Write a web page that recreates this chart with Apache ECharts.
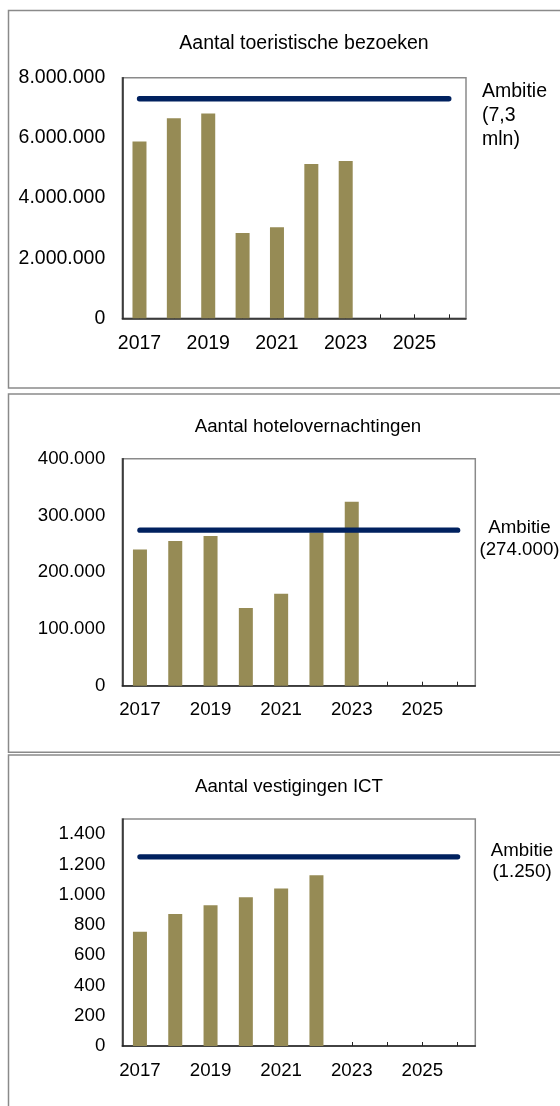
<!DOCTYPE html>
<html lang="nl">

<head>
    <meta charset="UTF-8">
    <meta name="viewport" content="width=device-width, initial-scale=1.0">
    <title>Ambities</title>
    <script src="https://cdn.jsdelivr.net/npm/echarts@6.0.0/dist/echarts.min.js"></script>
    <style>
        html, body { margin: 0; padding: 0; background: #fff; }
    </style>
</head>

<body>
    <div id="main" style="width: 560px;height:1106px;"></div>
    <script type="text/javascript">
        // data
        const jaren = ['2017', '2018', '2019', '2020', '2021', '2022', '2023', '2024', '2025', '2026'];
        const bezoeken = [5880000, 6650000, 6810000, 2840000, 3030000, 5130000, 5230000];
        const overnachtingen = [240000, 255000, 264000, 137000, 162000, 270000, 324000];
        const vestigingenICT = [755, 873, 930, 983, 1040, 1128];
        const ambities = [7300000, 274000, 1250];
        const titels = ['Aantal toeristische bezoeken', 'Aantal hotelovernachtingen', 'Aantal vestigingen ICT'];
        const ambitieTeksten = ['Ambitie\n(7,3\nmln)', 'Ambitie\n(274.000)', 'Ambitie\n(1.250)'];
        const yMax = [8000000, 400000, 1500];
        const yStap = [2000000, 100000, 200];

        const font = '"Liberation Sans", Arial, sans-serif';
        const barColor = '#968b55';
        const lineColor = '#00215f';

        // layout per panel
        const panels = [
            { box: [8.5, 10.5, 560, 377.5], grid: [122.3, 77.7, 343.7, 240.6], fs: 19.5, title: [304, 44],
              amb: { x: 482, y: 91.7, align: 'left', lh: 24 } },
            { box: [8.5, 394, 560, 358.3], grid: [122.3, 458.7, 353, 227], fs: 18.7, title: [308, 426.7],
              amb: { x: 519.5, y: 528, align: 'center', lh: 21.5 } },
            { box: [8.5, 755, 560, 360], grid: [122.3, 819, 353, 227], fs: 18.7, title: [289, 786.7],
              amb: { x: 522, y: 850.7, align: 'center', lh: 21 } }
        ];
        const reeksen = [bezoeken, overnachtingen, vestigingenICT];

        function fmt(v) {
            return String(v).replace(/\B(?=(\d{3})+(?!\d))/g, '.');
        }

        let myChart = echarts.init(document.getElementById('main'));

        const grids = [], xAxes = [], yAxes = [], series = [], graphics = [];

        panels.forEach((p, i) => {
            graphics.push({
                type: 'rect', silent: true,
                shape: { x: p.box[0], y: p.box[1], width: p.box[2], height: p.box[3] },
                style: { fill: 'none', stroke: '#8a8a8a', lineWidth: 1.5 }
            });
            graphics.push({
                type: 'text', silent: true, x: p.title[0], y: p.title[1],
                style: { text: titels[i], font: p.fs + 'px ' + font, fill: '#000', textAlign: 'center', textVerticalAlign: 'middle' }
            });
            graphics.push({
                type: 'text', silent: true, x: p.amb.x, y: p.amb.y - p.amb.lh / 2,
                style: {
                    text: ambitieTeksten[i], font: p.fs + 'px ' + font, fill: '#000',
                    textAlign: p.amb.align, textVerticalAlign: 'top', lineHeight: p.amb.lh
                }
            });

            grids.push({
                left: p.grid[0], top: p.grid[1], width: p.grid[2], height: p.grid[3],
                show: true, borderColor: '#8a8a8a', borderWidth: 1.5, containLabel: false
            });
            xAxes.push({
                type: 'category', gridIndex: i, data: jaren, boundaryGap: true,
                axisLine: { lineStyle: { color: '#222', width: 1.5 } },
                axisTick: { show: true, alignWithLabel: true, interval: 0, inside: true, length: 4, lineStyle: { color: '#222' } },
                axisLabel: { interval: 1, fontSize: p.fs, fontFamily: font, color: '#000', margin: 15 },
                splitLine: { show: false }
            });
            yAxes.push({
                type: 'value', gridIndex: i, min: 0, max: yMax[i], interval: yStap[i],
                axisLine: { show: true, lineStyle: { color: '#222', width: 1.5 } },
                axisTick: { show: false },
                splitLine: { show: false },
                axisLabel: {
                    fontSize: p.fs, fontFamily: font, color: '#000', margin: 17, showMaxLabel: i < 2,
                    formatter: v => (v % yStap[i] === 0 ? fmt(v) : '')
                }
            });
            series.push({
                type: 'bar', xAxisIndex: i, yAxisIndex: i, data: reeksen[i], barWidth: 14,
                itemStyle: { color: barColor }, z: 2
            });
            series.push({
                type: 'line', xAxisIndex: i, yAxisIndex: i,
                data: [[jaren[0], ambities[i]], [jaren[jaren.length - 1], ambities[i]]],
                showSymbol: false, symbol: 'none',
                lineStyle: { color: lineColor, width: 5.3, cap: 'round' }, z: 5
            });
        });

        let options = {
            animation: false,
            grid: grids,
            xAxis: xAxes,
            yAxis: yAxes,
            series: series,
            graphic: graphics
        };

        myChart.setOption(options);
    </script>
</body>

</html>
